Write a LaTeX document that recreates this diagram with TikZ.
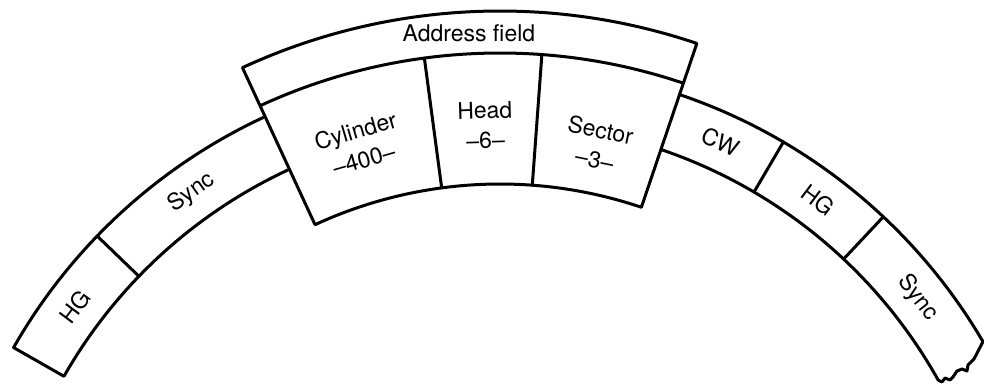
\documentclass[tikz,border=0pt]{standalone}
\usepackage{fontspec}
\setmainfont{TeX Gyre Heros}
\usepackage{tikz}

\begin{document}
\begin{tikzpicture}[x=0.5pt, y=0.5pt,
  edge/.style={line width=1.5pt, line join=round, line cap=round},
  fieldlbl/.style={font=\fontsize{11.5}{15}\selectfont, align=center, inner sep=0pt}
]
\useasboundingbox (-500,240) rectangle (484,625);

% left part of the track
\draw[edge] (115:560) arc[start angle=115, end angle=150.3, radius=560]
  -- (150.3:502) arc[start angle=150.3, end angle=115, radius=502];
\draw[edge] (136:502) -- (136:560);

% right part of the track, torn end
\draw[edge] (71.3:560) arc[start angle=71.3, end angle=30.4, radius=560]
  -- (474,266) -- (468,260) -- (467,254) -- (462,256) -- (457,254)
  -- (453,248) -- (450,245) -- (445,247) -- (442,243)
  -- (29.2:502) arc[start angle=29.2, end angle=71.3, radius=502];
\foreach \a in {59.6, 46.8}
  \draw[edge] (\a:502) -- (\a:560);

% address field
\draw[edge, fill=white] (114.8:441) -- (114.8:614)
  arc[start angle=114.8, end angle=71.3, radius=614]
  -- (71.3:441) arc[start angle=71.3, end angle=114.8, radius=441] -- cycle;
\draw[edge] (114.8:572) arc[start angle=114.8, end angle=71.3, radius=572];
\foreach \a in {97.6, 85.8}
  \draw[edge] (\a:441) -- (\a:572);

\node[fieldlbl] (addr) at (93:593) {Address field};
\node[fieldlbl, rotate=16.3] (cyl) at (106.3:500) {Cylinder\\–400–};
\node[fieldlbl, rotate=1.7] (head) at (91.7:500) {Head\\–6–};
\node[fieldlbl, rotate=-11.5] (sect) at (78.5:490) {Sector\\–3–};

% track labels
\node[fieldlbl, rotate=53.2] (hgleft) at (143.2:531) {HG};
\node[fieldlbl, rotate=35.5] (syncleft) at (125.5:531) {Sync};
\node[fieldlbl, rotate=-24.5] (cw) at (65.5:531) {CW};
\node[fieldlbl, rotate=-36.8] (hgright) at (53.2:531) {HG};
\node[fieldlbl, rotate=-51.9] (syncright) at (38.1:531) {Sync};

\end{tikzpicture}
\end{document}
